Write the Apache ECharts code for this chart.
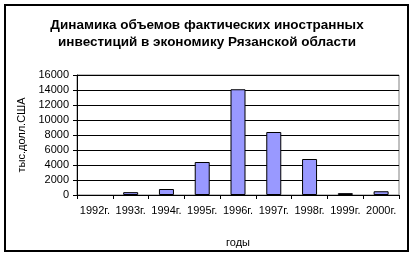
<!DOCTYPE html>
<html><head><meta charset="utf-8">
<script src="https://cdn.jsdelivr.net/npm/echarts@6/dist/echarts.min.js"></script>
<style>html,body{margin:0;padding:0;background:#fff}#c{width:414px;height:257px}
#frame{position:absolute;left:4px;top:4px;width:401px;height:244px;border:2px solid #000;pointer-events:none}</style>
</head><body><div id="c"></div><div id="frame"></div>
<script>
const titleLines = ['Динамика объемов фактических иностранных', 'инвестиций в экономику Рязанской области'];
const categories = ['1992г.', '1993г.', '1994г.', '1995г.', '1996г.', '1997г.', '1998г.', '1999г.', '2000г.'];
const values = [0, 380, 800, 4400, 14100, 8400, 4800, 250, 500];
const yAxisName = 'тыс.долл.США';
const xAxisName = 'годы';
const yMin = 0, yMax = 16000, yStep = 2000;

const chart = echarts.init(document.getElementById('c'), null, {renderer: 'canvas'});
const font = 'Liberation Sans, Arial, sans-serif';
chart.setOption({
  animation: false,
  backgroundColor: '#fff',
  title: {
    text: titleLines.join('\n'), left: 'center', top: 12,
    textStyle: {fontFamily: font, fontSize: 13.5, fontWeight: 'bold', color: '#000', lineHeight: 17}
  },
  grid: {left: 77, right: 15, top: 75, bottom: 62, show: true, borderColor: '#808080', borderWidth: 1, backgroundColor: '#fff'},
  xAxis: {
    type: 'category', data: categories,
    name: xAxisName, nameLocation: 'middle', nameGap: 42,
    nameTextStyle: {fontFamily: font, fontSize: 11, color: '#000'},
    axisLine: {lineStyle: {color: '#000', width: 1}},
    axisTick: {show: true, length: 4, lineStyle: {color: '#000'}},
    axisLabel: {fontFamily: font, fontSize: 11, color: '#000', margin: 10, interval: 0}
  },
  yAxis: {
    type: 'value', min: yMin, max: yMax, interval: yStep,
    name: yAxisName, nameLocation: 'middle', nameGap: 47, nameRotate: 90,
    nameTextStyle: {fontFamily: font, fontSize: 11, color: '#000'},
    axisLine: {show: true, lineStyle: {color: '#000', width: 1}},
    axisTick: {show: true, length: 4, lineStyle: {color: '#000'}},
    axisLabel: {fontFamily: font, fontSize: 11, color: '#000', margin: 8, formatter: v => String(v)},
    splitLine: {lineStyle: {color: '#000', width: 1}}
  },
  series: [{
    type: 'bar', barWidth: 15,
    data: values.map(v => v === 0 ? {value: v, itemStyle: {borderWidth: 0, opacity: 0}} : v),
    itemStyle: {color: '#9999FF', borderColor: '#000', borderWidth: 1}
  }]
});
</script></body></html>
